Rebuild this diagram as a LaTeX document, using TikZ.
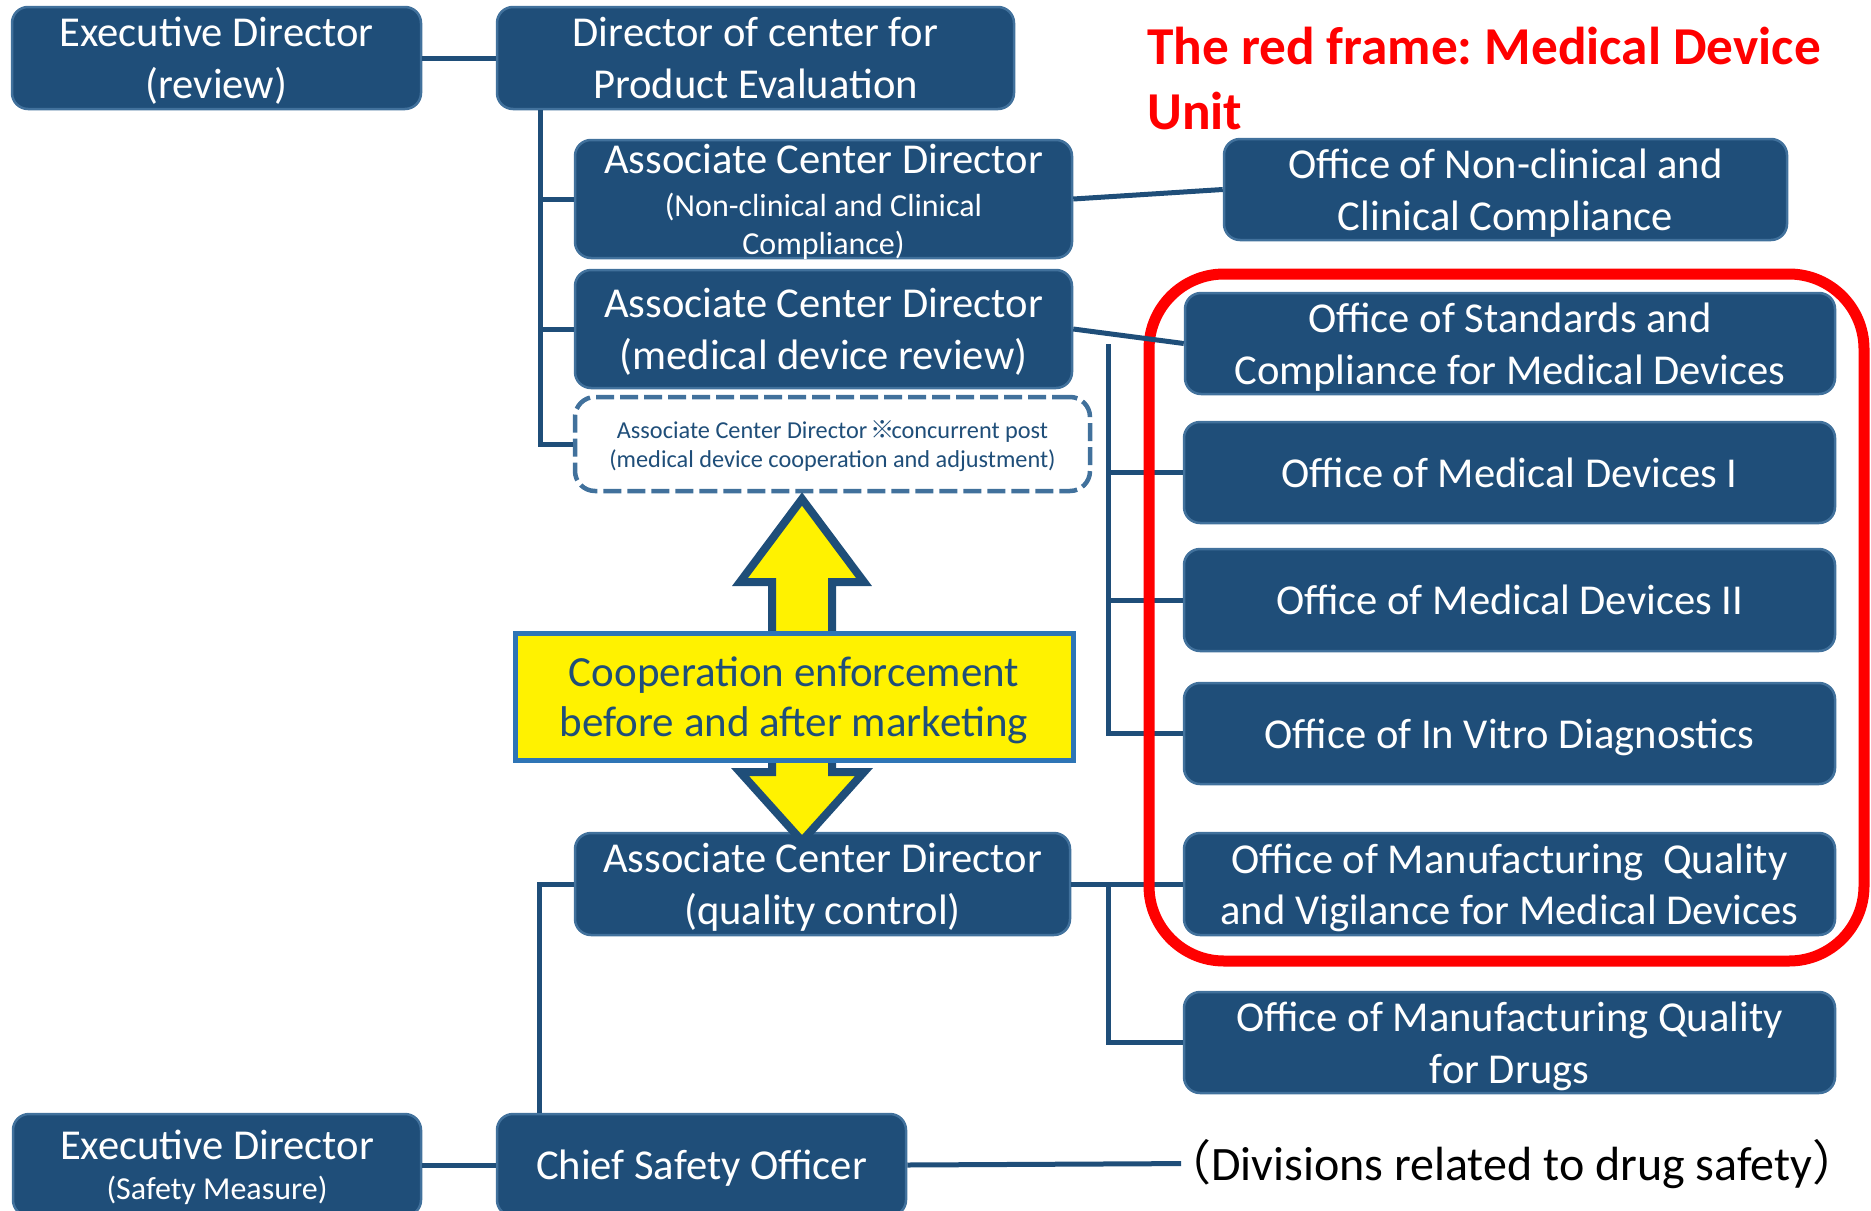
\documentclass[tikz,border=0pt]{standalone}
\usepackage{fontspec}
\setmainfont{Carlito}
\newfontfamily\cjk{Noto Sans CJK JP}
\frenchspacing
\definecolor{boxfill}{HTML}{1F4E79}
\definecolor{boxline}{HTML}{41719C}
\definecolor{connc}{HTML}{1F4E79}
\definecolor{yelline}{HTML}{2E75B6}
\definecolor{arrline}{HTML}{1F4E79}
\definecolor{framered}{HTML}{FF0000}
\tikzset{
  orgbox/.style={draw=boxline, fill=boxfill, line width=2.5pt, rounded corners=16pt,
    text=white, align=center, inner sep=0pt, text depth=0pt,
    font=\fontsize{42.6}{51.5}\selectfont},
  dashbox/.style={draw=boxline, fill=white, line width=4.5pt, dash pattern=on 18pt off 6pt,
    rounded corners=20pt, text=boxfill, align=center, inner sep=0pt, text depth=0pt,
    font=\fontsize{24.3}{29}\selectfont},
  yelbox/.style={draw=yelline, fill=yellow, line width=5pt, text=boxfill, align=center,
    inner sep=0pt, text depth=0pt, font=\fontsize{43}{50}\selectfont},
  conn/.style={draw=connc, line width=5pt},
  titletext/.style={text=framered, align=left, inner sep=0pt,
    font=\fontsize{53.3}{65}\selectfont\bfseries},
  notetext/.style={text=black, inner sep=0pt, font=\fontsize{48}{56}\selectfont},
}
\begin{document}
\begin{tikzpicture}[x=1pt,y=-1pt]
\useasboundingbox (0,0) rectangle (1871,1210);
\clip (0,0) rectangle (1871,1210);

% boxes
\node[orgbox, minimum width=409, minimum height=102] (edr) at (216.5,58) {Executive Director\\(review)};
\node[orgbox, minimum width=517, minimum height=102] (dir) at (755.5,58) {Director of center for\\Product Evaluation};
\node[orgbox, minimum width=497, minimum height=118] (acd1) at (823.5,199)
  {Associate Center Director\\[-8pt]\fontsize{32}{37}\selectfont(Non-clinical and Clinical\\[-14pt]\fontsize{32}{37}\selectfont Compliance)};
\node[orgbox, minimum width=497, minimum height=118] (acd2) at (823.5,329) {Associate Center Director\\(medical device review)};
\node[dashbox, minimum width=515, minimum height=94] (acd3) at (832.5,444)
  {Associate Center Director\hspace{3pt}{\cjk ※}\hspace{-3pt}concurrent post\\(medical device cooperation and adjustment)};
\node[orgbox, minimum width=495, minimum height=102] (acdq) at (822.5,884) {Associate Center Director\\(quality control)};
\node[orgbox, minimum width=408, minimum height=102] (edsm) at (217,1165)
  {Executive Director\\[-11pt]\fontsize{32}{37}\selectfont(Safety Measure)};
\node[orgbox, minimum width=409, minimum height=102] (cso) at (701.5,1165) {Chief Safety Officer};

\node[orgbox, minimum width=563, minimum height=101] (onc) at (1505.5,189.5) {Office of Non-clinical and\\Clinical Compliance};
\node[orgbox, minimum width=650, minimum height=101] (osc) at (1510,343.5) {Office of Standards and\\Compliance for Medical Devices};
\node[orgbox, minimum width=651, minimum height=101] (omd1) at (1509.5,472.5) {Office of Medical Devices I};
\node[orgbox, minimum width=651, minimum height=102] (omd2) at (1509.5,600) {Office of Medical Devices II};
\node[orgbox, minimum width=651, minimum height=101] (ivd) at (1509.5,733.5) {Office of In Vitro Diagnostics};
\node[orgbox, minimum width=651, minimum height=102] (mqv) at (1509.5,884) {Office of Manufacturing~ Quality\\and Vigilance for Medical Devices};
\node[orgbox, minimum width=651, minimum height=101] (mqd) at (1509.5,1042.5) {Office of Manufacturing Quality\\for Drugs};

\node[titletext, anchor=base west] (ttl) at (1147,129) {The red frame: Medical Device\\Unit};
\node[notetext, anchor=base west] (div) at (1181,1180) {\kern-18pt{\cjk （}Divisions related to drug safety{\cjk ）}};

% double arrow
\draw[draw=arrline, fill=yellow, line width=8pt, line join=miter]
  (802,499) -- (864,582) -- (832,582) -- (832,772) -- (864,772) -- (802,841)
  -- (740,772) -- (772,772) -- (772,582) -- (740,582) -- cycle;
\node[yelbox, minimum width=558, minimum height=127] (yel) at (794,696.5) {Cooperation enforcement\\before and after marketing};

% connectors
\coordinate (tk) at (540,0);
\coordinate (tkb) at (539,0);
\coordinate (bus) at (1108,344);
\draw[conn] (edr) -- (dir);
\draw[conn] (tk |- dir.south) |- (acd3.west);
\draw[conn] (tk |- acd1.west) -- (acd1.west);
\draw[conn] (tk |- acd2.west) -- (acd2.west);
\draw[conn] (acd1.east) -- (onc.west);
\draw[conn] (bus) |- (ivd.west);
\draw[conn] (bus |- omd1.west) -- (omd1.west);
\draw[conn] (bus |- omd2.west) -- (omd2.west);
\draw[conn] (acdq.east) -- (mqv.west);
\draw[conn] (bus |- mqv.west) |- (mqd.west);
\draw[conn] (acdq.west) -| (tkb |- cso.north);
\draw[conn] (edsm) -- (cso);
\draw[conn] (cso.east) -- (div.west);

% red frame
\draw[framered, line width=11pt, rounded corners=75pt] (1149,274) rectangle (1864,961);
\draw[conn] (acd2.east) -- (osc.west);
\end{tikzpicture}
\end{document}
